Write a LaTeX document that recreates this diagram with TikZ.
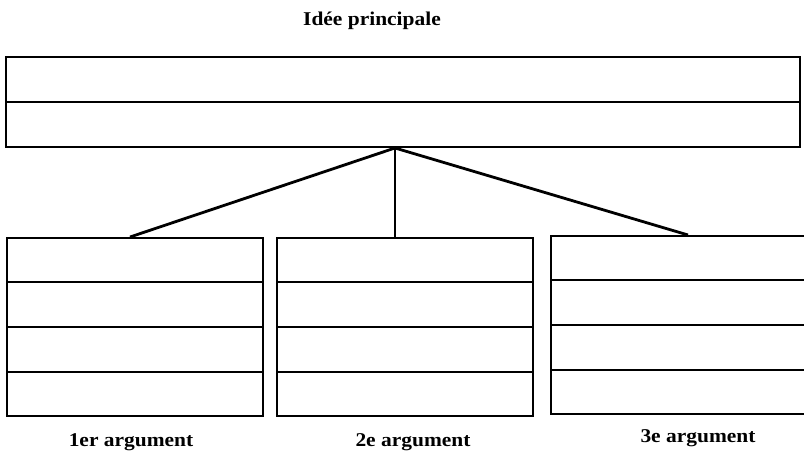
\documentclass[tikz,border=0pt]{standalone}
\usepackage{fontspec}
\setmainfont{Liberation Serif}[FakeStretch=1.1]
\usetikzlibrary{calc}

\tikzset{
  mainbox/.style={draw, line width=2pt, minimum width=794pt, minimum height=90pt, inner sep=0pt},
  argbox/.style={draw, line width=2pt, minimum width=256pt, minimum height=178pt, inner sep=0pt},
  branch/.style={line width=2.8pt},
  caption/.style={anchor=base, font=\fontsize{19.5}{21}\selectfont\bfseries}
}

\begin{document}
\begin{tikzpicture}[x=1pt,y=-1pt]
        \useasboundingbox (0,0) rectangle (804,454);
        \clip (0,0) rectangle (804,454);
        \node[caption] (titre) at (372,26) {Idée principale};
        \node[mainbox] (idee) at (403,102) {};
        \draw[line width=2pt] (idee.west) -- (idee.east);
        \node[argbox] (arg1) at (135,327) {};
        \node[argbox] (arg2) at (405,327) {};
        \node[argbox] (arg3) at (679,325) {};
        \foreach \n in {arg1,arg2,arg3}{
          \foreach \f in {.25,.5,.75}{
            \draw[line width=2pt] ($(\n.north west)!\f!(\n.south west)$) -- ($(\n.north east)!\f!(\n.south east)$);
          }
        }
        \coordinate (sommet) at ([xshift=-8pt]idee.south);
        \coordinate (bout1) at ([xshift=-5pt]arg1.north);
        \coordinate (bout3) at ([xshift=9pt]arg3.north);
        \draw[branch] (sommet) -- (bout1);
        \draw[line width=1.5pt] (sommet) -- (sommet |- arg2.north);
        \draw[branch] (sommet) -- (bout3);
        \node[caption] (cap1) at (131,447) {1er argument};
        \node[caption] (cap2) at (413,447) {2e argument};
        \node[caption] (cap3) at (698,443) {3e argument};
      \end{tikzpicture}
\end{document}
